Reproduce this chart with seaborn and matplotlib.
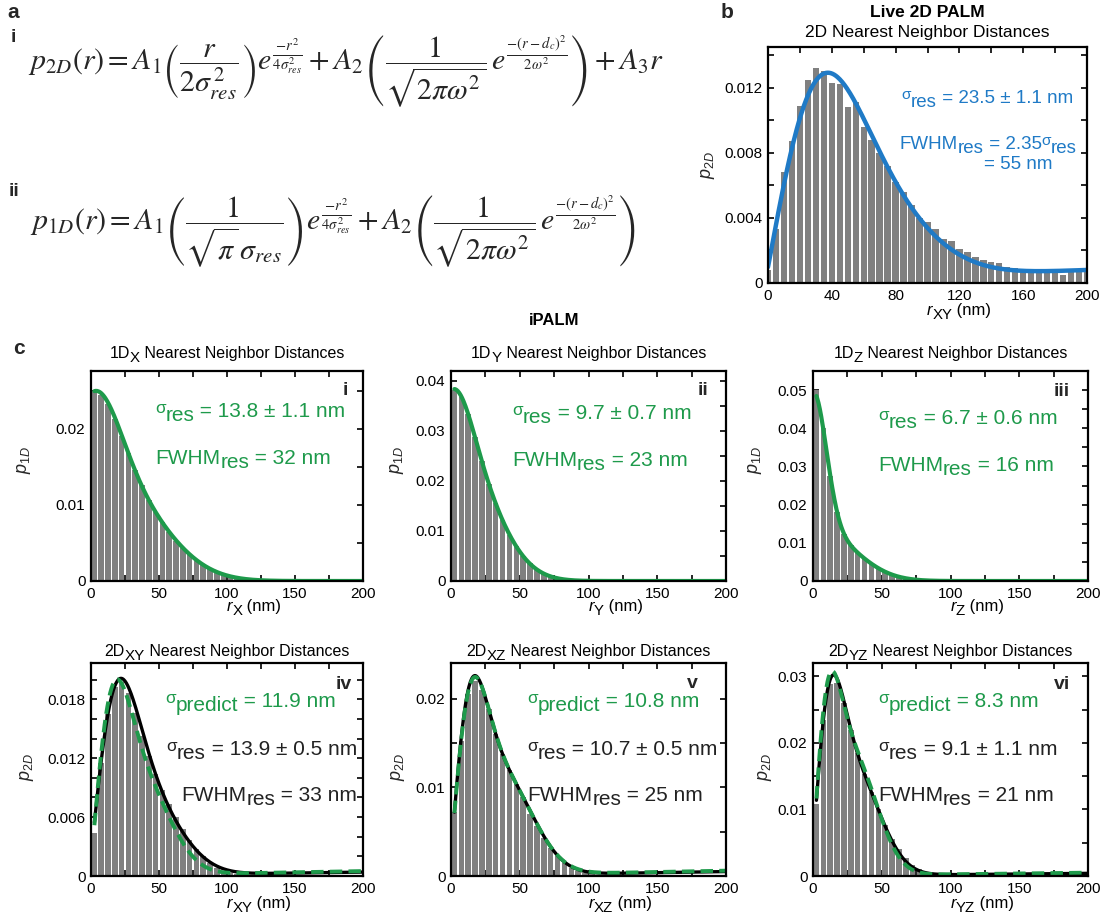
import numpy as np
import matplotlib
matplotlib.use("Agg")
import matplotlib.pyplot as plt
from matplotlib.ticker import MultipleLocator, FuncFormatter
import seaborn as sns

sns.set_style("ticks")
plt.rcParams["font.family"] = ["Liberation Sans", "DejaVu Sans"]
plt.rcParams["mathtext.fontset"] = "custom"
plt.rcParams["mathtext.rm"] = "Liberation Sans"
plt.rcParams["mathtext.it"] = "Liberation Sans:italic"
plt.rcParams["mathtext.bf"] = "Liberation Sans:bold"
plt.rcParams["mathtext.sf"] = "Liberation Sans"

# ---------------- data ----------------
# Live 2D PALM histogram, bins centred on 0, 5, ..., 200 nm (x 1e-3)
b_centers = np.arange(0, 201, 5)
b_heights = np.array([0.8, 3.3, 6.8, 8.7, 10.9, 12.5, 13.2, 13.0, 12.3, 12.2,
                      10.8, 11.1, 9.6, 8.8, 8.0, 7.2, 6.2, 5.6, 4.8, 4.0,
                      3.75, 3.3, 2.7, 2.6, 2.1, 1.9, 1.6, 1.4, 1.3, 1.2,
                      1.0, 0.9, 0.8, 0.7, 0.7, 0.6, 0.6, 0.5, 0.7, 0.7, 0.7]) * 1e-3

# iPALM histograms, bins centred on 2.5, 7.5, ..., 197.5 nm (x 1e-3)
c_centers = np.arange(2.5, 200, 5)
x1d_heights = np.array([25.0, 24.5, 23.3, 21.3, 19.0, 16.8, 14.6, 12.6, 10.7, 9.1,
                        7.7, 6.4, 5.2, 4.3, 3.5, 2.8, 2.1, 1.6, 1.2, 0.85,
                        0.6, 0.4, 0.3, 0.2, 0.12, 0.08, 0.06, 0.05, 0.05, 0.05,
                        0.04, 0.05, 0.04, 0.04, 0.05, 0.04, 0.04, 0.05, 0.04, 0.05]) * 1e-3
y1d_heights = np.array([38.3, 36.8, 33.5, 28.8, 24.0, 19.5, 15.6, 12.2, 9.3, 7.0,
                        5.1, 3.6, 2.4, 1.6, 1.0, 0.6, 0.35, 0.2, 0.12, 0.08,
                        0.06, 0.05, 0.05, 0.04, 0.05, 0.04, 0.04, 0.05, 0.04, 0.04,
                        0.05, 0.04, 0.04, 0.05, 0.04, 0.04, 0.05, 0.04, 0.05, 0.05]) * 1e-3
z1d_heights = np.array([50.0, 40.0, 27.5, 18.0, 12.3, 9.5, 7.5, 6.0, 4.6, 3.4,
                        2.4, 1.7, 1.1, 0.7, 0.45, 0.3, 0.2, 0.15, 0.12, 0.1,
                        0.08, 0.08, 0.07, 0.08, 0.07, 0.07, 0.08, 0.07, 0.07, 0.08,
                        0.07, 0.07, 0.08, 0.07, 0.08, 0.07, 0.1, 0.12, 0.12, 0.1]) * 1e-3
xy2d_heights = np.array([4.4, 11.5, 16.5, 19.3, 19.8, 18.6, 16.6, 14.3, 12.2, 10.4,
                         8.8, 7.3, 6.0, 4.8, 3.7, 2.8, 2.0, 1.3, 0.8, 0.5,
                         0.3, 0.2, 0.15, 0.1, 0.1, 0.08, 0.06, 0.05, 0.05, 0.05,
                         0.04, 0.05, 0.04, 0.05, 0.05, 0.04, 0.05, 0.05, 0.04, 0.05]) * 1e-3
xz2d_heights = np.array([7.2, 15.2, 20.5, 22.0, 21.0, 18.8, 16.0, 13.8, 12.0, 10.4,
                         8.9, 7.0, 5.6, 4.3, 3.2, 2.3, 1.5, 0.95, 0.6, 0.35,
                         0.25, 0.15, 0.1, 0.08, 0.07, 0.06, 0.06, 0.05, 0.05, 0.05,
                         0.05, 0.05, 0.05, 0.05, 0.05, 0.05, 0.05, 0.05, 0.05, 0.05]) * 1e-3
yz2d_heights = np.array([10.8, 23.5, 28.8, 29.0, 26.0, 22.0, 18.5, 15.3, 12.6, 10.0,
                         7.7, 5.6, 4.0, 2.7, 1.7, 1.0, 0.55, 0.3, 0.2, 0.12,
                         0.1, 0.08, 0.07, 0.06, 0.06, 0.05, 0.05, 0.05, 0.05, 0.05,
                         0.05, 0.05, 0.05, 0.05, 0.05, 0.05, 0.05, 0.05, 0.05, 0.05]) * 1e-3

# fitted model parameters: (A1, sigma_res, A2, d_c, omega[, A3])
b_fit = (0.52, 23.5, 0.390, 62.0, 36.0, 4.0e-6)
x1d_fit = (0.367, 13.8, 0.980, 20.0, 34.0)
y1d_fit = (0.258, 9.7, 1.540, 7.0, 25.6)
z1d_fit = (0.439, 6.7, 0.834, 5.0, 26.0)
xy2d_fit = (0.47, 13.9, 0.470, 40.0, 25.0, 2.0e-6)
xy2d_pred = (0.43, 11.9, 0.411, 40.0, 20.0, 2.5e-6)
xz2d_fit = (0.40, 10.7, 0.585, 38.0, 22.0, 2.5e-6)
xz2d_pred = (0.40, 10.8, 0.580, 38.0, 22.0, 3.0e-6)
yz2d_fit = (0.42, 9.1, 0.707, 30.0, 18.8, 2.0e-6)
yz2d_pred = (0.40, 8.3, 0.716, 30.0, 17.0, 2.5e-6)


def p2d(r, A1, s, A2, dc, w, A3):
    return (A1 * (r / (2 * s ** 2)) * np.exp(-r ** 2 / (4 * s ** 2))
            + A2 / np.sqrt(2 * np.pi * w ** 2) * np.exp(-(r - dc) ** 2 / (2 * w ** 2))
            + A3 * r)


def p1d(r, A1, s, A2, dc, w):
    return (A1 / (np.sqrt(np.pi) * s) * np.exp(-r ** 2 / (4 * s ** 2))
            + A2 / np.sqrt(2 * np.pi * w ** 2) * np.exp(-(r - dc) ** 2 / (2 * w ** 2)))


# ---------------- layout helpers ----------------
W, H = 1108, 917
GRAY = "#808080"
BLUE = "#1f7ac6"
GREEN = "#1e9a4b"
TICK = 11
NOTE = 15

fig = plt.figure(figsize=(W / 100, H / 100), dpi=100)
renderer = fig.canvas.get_renderer()


def add_axes(box):
    l, t, r, b = box
    return fig.add_axes([l / W, 1 - b / H, (r - l) / W, (b - t) / H])


def rich(x, y, pieces, size, color="black", ha="left", weight="normal"):
    """Draw a run of text pieces side by side; y is the baseline in pixels from the top.
    Each piece is (text, size scale, vertical shift in px (down > 0), font style)."""
    arts = []
    total = 0.0
    for s, sc, dy, st in pieces:
        t = fig.text(0, 0, s, fontsize=size * sc, color=color, fontweight=weight,
                     fontstyle=st, ha="left", va="baseline")
        w = t.get_window_extent(renderer).width
        arts.append((t, dy, w))
        total += w
    x0 = {"left": x, "right": x - total, "center": x - total / 2}[ha]
    for t, dy, w in arts:
        t.set_position((x0 / W, 1 - (y + dy) / H))
        x0 += w


def sub(main, low, tail="", raise_main=False, low_scale=1.0):
    first = (main, 0.82 if raise_main else 1.0, -4 if raise_main else 0, "normal")
    return [first, (low, low_scale, 4, "normal"), (tail, 1.0, 0, "normal")]


def zero_fmt(v, pos):
    return "0" if abs(v) < 1e-12 else f"{v:g}"


def style_axes(ax, xmaj, xmin, ymaj, ymin, ylim):
    ax.set_xlim(0, 200)
    ax.set_ylim(0, ylim)
    ax.set_xticks(xmaj)
    ax.set_yticks(ymaj)
    ax.xaxis.set_minor_locator(MultipleLocator(xmin))
    ax.yaxis.set_minor_locator(MultipleLocator(ymin))
    ax.xaxis.set_major_formatter(FuncFormatter(zero_fmt))
    ax.yaxis.set_major_formatter(FuncFormatter(zero_fmt))
    ax.tick_params(which="both", direction="in", top=True, right=True,
                   length=4, width=1.2, colors="black", labelsize=TICK, pad=4)
    for sp in ax.spines.values():
        sp.set_visible(True)
        sp.set_linewidth(1.6)
        sp.set_color("black")
    ax.set_xlabel("")
    ax.set_ylabel("")


def bars(ax, centers, heights):
    sns.barplot(x=centers, y=heights, native_scale=True, orient="x", width=0.8,
                color=GRAY, saturation=1, errorbar=None, linewidth=0, ax=ax)


def ylab(x, y, s):
    fig.text(x / W, 1 - y / H, s, rotation=90, ha="center", va="center", fontsize=13)


def xlab(xc, y, axis):
    rich(xc, y, [("r", 1.0, 0, "italic"), (axis, 0.9, 4, "normal"), (" (nm)", 1.0, 0, "normal")],
         12)


def bold(x, y, s, size=14, ha="right"):
    fig.text(x / W, 1 - y / H, s, fontsize=size, fontweight="bold", ha=ha, va="baseline")


# ---------------- panel a: model equations ----------------
fig.text(13 / W, 1 - 12 / H, "a", fontsize=15, fontweight="bold", ha="center", va="center")
fig.text(13 / W, 1 - 38 / H, "i", fontsize=14, fontweight="bold", ha="center", va="center")
fig.text(14 / W, 1 - 191 / H, "ii", fontsize=14, fontweight="bold", ha="center", va="center")

eq_2d = (r"$p_{2D}(r)=A_1\left(\dfrac{r}{2\sigma_{res}^{\,2}}\right)e^{\frac{-r^2}{4\sigma_{res}^2}}"
         r"+A_2\left(\dfrac{1}{\sqrt{2\pi\omega^2}}\,e^{\frac{-(r-d_c)^2}{2\omega^2}}\right)+A_3r$")
eq_1d = (r"$p_{1D}(r)=A_1\left(\dfrac{1}{\sqrt{\pi}\,\sigma_{res}}\right)e^{\frac{-r^2}{4\sigma_{res}^2}}"
         r"+A_2\left(\dfrac{1}{\sqrt{2\pi\omega^2}}\,e^{\frac{-(r-d_c)^2}{2\omega^2}}\right)$")
fig.text(28 / W, 1 - 70 / H, eq_2d, fontsize=21.5, va="baseline", math_fontfamily="stix")
fig.text(30 / W, 1 - 230 / H, eq_1d, fontsize=21.5, va="baseline", math_fontfamily="stix")

# ---------------- panel b: live 2D PALM ----------------
BOX_B = (768, 47, 1087, 283)
ax = add_axes(BOX_B)
bars(ax, b_centers, b_heights)
r0 = np.linspace(0, 200, 401)
sns.lineplot(x=r0, y=p2d(r0, *b_fit), color=BLUE, linewidth=3.2, ax=ax)
style_axes(ax, [0, 40, 80, 120, 160, 200], 20, [0, 0.004, 0.008, 0.012], 0.002, 0.0145)
ylab(708, 165, r"$\mathit{p_{2D}}$")
xlab(927, 315, "XY")
fig.text(727 / W, 1 - 13 / H, "b", fontsize=15, fontweight="bold", ha="center", va="center")
rich(927, 17, [("Live 2D PALM", 1, 0, "normal")], 12.5, ha="center", weight="bold")
rich(927, 37, [("2D Nearest Neighbor Distances", 1, 0, "normal")], 12.5, ha="center")
rich(1073, 103, sub("σ", "res", " = 23.5 ± 1.1 nm", raise_main=True), 13.5, BLUE, ha="right")
rich(1077, 149, sub("FWHM", "res", " = 2.35") + sub("σ", "res", raise_main=True),
     13.5, BLUE, ha="right")
rich(1053, 169, [("= 55 nm", 1, 0, "normal")], 13.5, BLUE, ha="right")

# ---------------- panel c: iPALM ----------------
rich(554, 325, [("iPALM", 1, 0, "normal")], 12, ha="center", weight="bold")
fig.text(19 / W, 1 - 348 / H, "c", fontsize=15, fontweight="bold", ha="center", va="center")

cols = [(91, 363), (451, 726), (813, 1088)]
ROW1 = (371, 581)
ROW2 = (663, 876)
rc = np.linspace(2.5, 200, 396)

panels_1d = [
    ("X", x1d_heights, x1d_fit, "i", "13.8 ± 1.1", "32", 0.0276,
     [0, 0.01, 0.02], (155, 417, 464), (348, 395), 24),
    ("Y", y1d_heights, y1d_fit, "ii", "9.7 ± 0.7", "23", 0.042,
     [0, 0.01, 0.02, 0.03, 0.04], (512, 419, 466), (708, 395), 397),
    ("Z", z1d_heights, z1d_fit, "iii", "6.7 ± 0.6", "16", 0.055,
     [0, 0.01, 0.02, 0.03, 0.04, 0.05], (878, 424, 471), (1070, 396), 755),
]
for (l, r), (axis, heights, fit, tag, sig, fwhm, ylim, yt, tpos, tagpos, ylx) in zip(cols, panels_1d):
    box = (l, ROW1[0], r, ROW1[1])
    ax = add_axes(box)
    bars(ax, c_centers, heights)
    sns.lineplot(x=rc, y=p1d(rc, *fit), color=GREEN, linewidth=3.0, ax=ax)
    style_axes(ax, [0, 50, 100, 150, 200], 25, yt, 0.005, ylim)
    xc = (l + r) / 2
    rich(xc, 358, sub("1D", axis, " Nearest Neighbor Distances", low_scale=0.95), 11.5, ha="center")
    xlab(xc, 611, axis)
    ylab(ylx, 460, r"$\mathit{p_{1D}}$")
    bold(tagpos[0], tagpos[1], tag)
    rich(tpos[0], tpos[1], sub("σ", "res", f" = {sig} nm", raise_main=True), NOTE, GREEN)
    rich(tpos[0], tpos[2], sub("FWHM", "res", f" = {fwhm} nm"), NOTE, GREEN)

panels_2d = [
    ("XY", xy2d_heights, xy2d_fit, xy2d_pred, "iv", "11.9", "13.9 ± 0.5", "33", 0.0217,
     [0, 0.006, 0.012, 0.018], 0.002, (352, 689), 27, "right", (165, 357)),
    ("XZ", xz2d_heights, xz2d_fit, xz2d_pred, "v", "10.8", "10.7 ± 0.5", "25", 0.024,
     [0, 0.01, 0.02], 0.005, (698, 688), 398, "left", (527, 527)),
    ("YZ", yz2d_heights, yz2d_fit, yz2d_pred, "vi", "8.3", "9.1 ± 1.1", "21", 0.032,
     [0, 0.01, 0.02, 0.03], 0.005, (1070, 689), 765, "left", (878, 878)),
]
for (l, r), (axis, heights, fit, pred, tag, sp, sig, fwhm, ylim, yt, ymin, tagpos, ylx, align, tx) in zip(cols, panels_2d):
    box = (l, ROW2[0], r, ROW2[1])
    ax = add_axes(box)
    bars(ax, c_centers, heights)
    sns.lineplot(x=rc, y=p2d(rc, *fit), color="black", linewidth=2.4, ax=ax)
    sns.lineplot(x=rc, y=p2d(rc, *pred), color=GREEN, linewidth=2.8,
                 linestyle=(0, (3.2, 1.6)), ax=ax)
    style_axes(ax, [0, 50, 100, 150, 200], 25, yt, ymin, ylim)
    xc = (l + r) / 2
    rich(xc, 656, sub("2D", axis, " Nearest Neighbor Distances", low_scale=0.95), 11.5, ha="center")
    xlab(xc, 908, axis)
    ylab(ylx, 767, r"$\mathit{p_{2D}}$")
    bold(tagpos[0], tagpos[1], tag)
    rich(tx[0], 707, sub("σ", "predict", f" = {sp} nm", raise_main=True), NOTE, GREEN)
    rich(tx[1], 755, sub("σ", "res", f" = {sig} nm", raise_main=True), NOTE, "#222222", ha=align)
    rich(tx[1], 801, sub("FWHM", "res", f" = {fwhm} nm"), NOTE, "#222222", ha=align)

fig.savefig("out.png", dpi=100, facecolor="white")
